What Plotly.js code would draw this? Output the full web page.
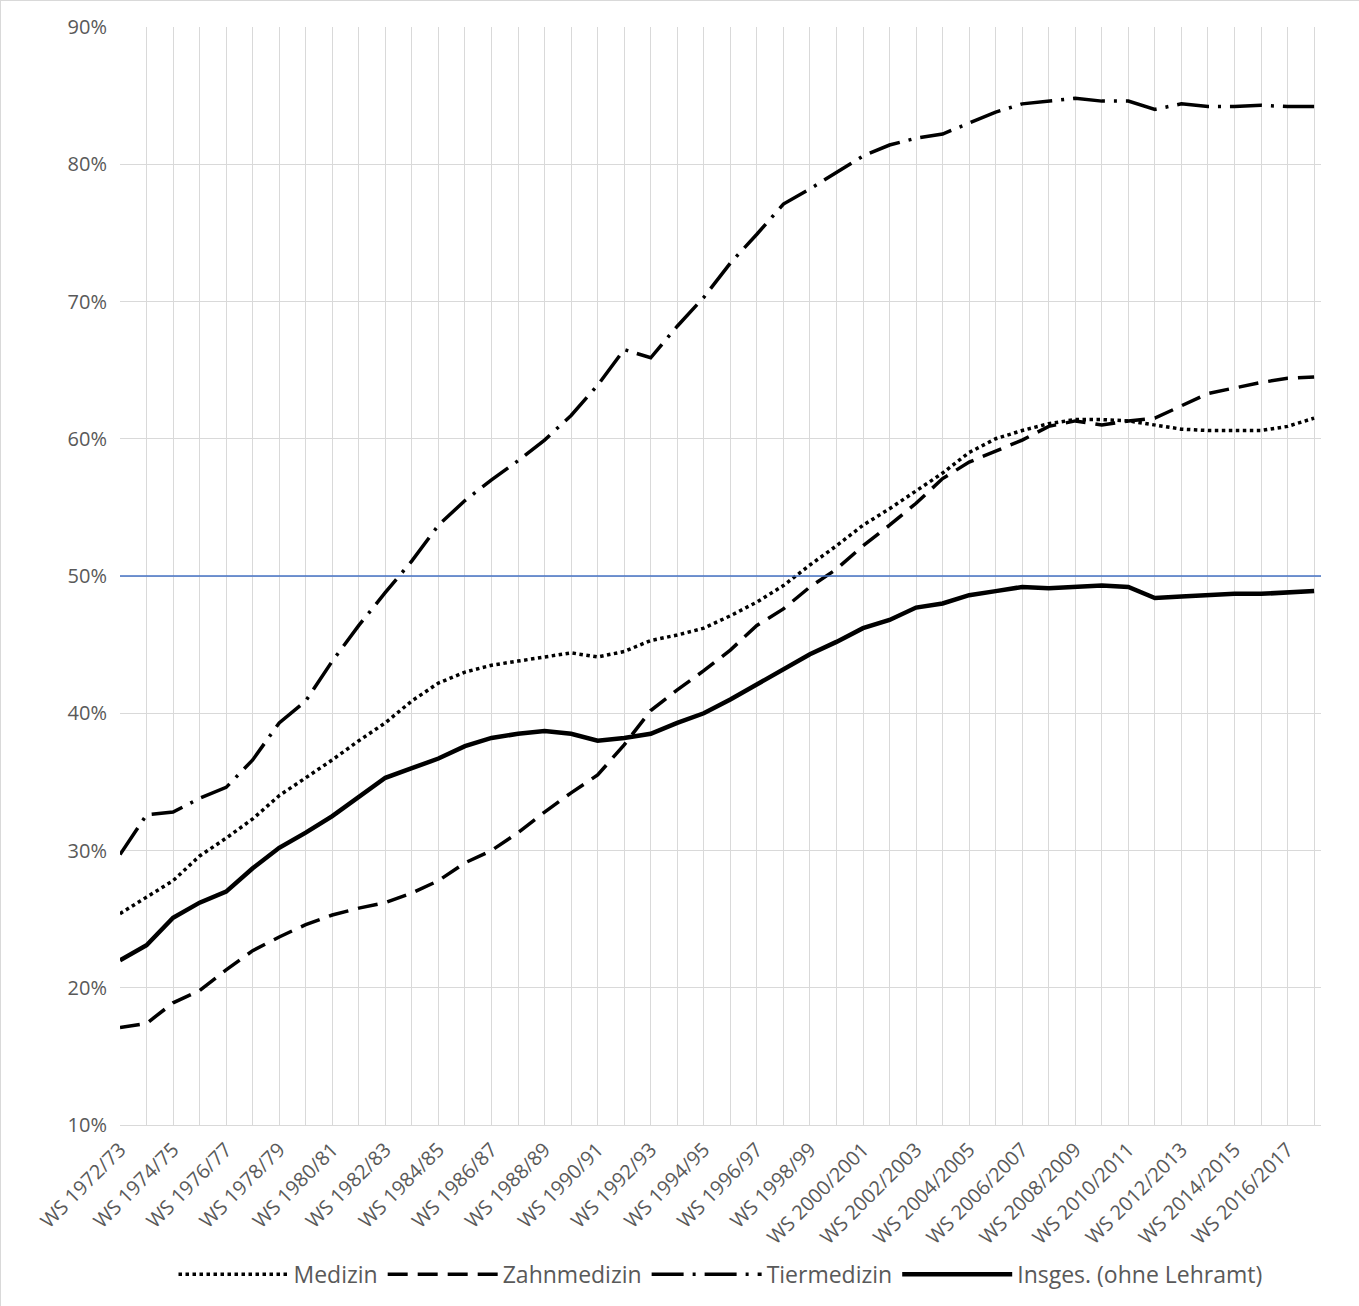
<!DOCTYPE html>
<html><head><meta charset="utf-8">
<script src="https://cdn.plot.ly/plotly-3.0.1.min.js"></script>
<style>body{margin:0}#c{width:1359px;height:1306px;box-sizing:border-box;border:1px solid #d9d9d9}</style>
</head><body><div id="c"></div>
<script>
const categories = [];
for (let y = 1972; y <= 2017; y++) {
  const n = y + 1;
  categories.push(y < 1999 ? `WS ${y}/${String(n).slice(2)}` : `WS ${y}/${n}`);
}
const medizin = [25.4,26.6,27.8,29.6,30.9,32.3,34.0,35.3,36.6,38.0,39.3,40.9,42.2,43.0,43.5,43.8,44.1,44.4,44.1,44.5,45.3,45.7,46.2,47.1,48.1,49.3,50.8,52.2,53.7,54.9,56.2,57.5,59.0,60.0,60.6,61.1,61.4,61.4,61.3,61.0,60.7,60.6,60.6,60.6,60.9,61.5];
const zahnmedizin = [17.1,17.4,18.9,19.8,21.3,22.7,23.7,24.6,25.3,25.8,26.2,26.9,27.8,29.1,30.0,31.3,32.8,34.2,35.5,37.7,40.2,41.7,43.1,44.6,46.4,47.6,49.2,50.5,52.2,53.7,55.3,57.1,58.3,59.1,59.9,60.9,61.3,61.0,61.3,61.5,62.4,63.3,63.7,64.1,64.4,64.5];
const tiermedizin = [29.7,32.6,32.8,33.8,34.6,36.6,39.3,40.9,43.8,46.4,48.8,51.1,53.7,55.5,57.0,58.4,59.9,61.7,63.9,66.5,65.9,68.2,70.3,72.8,74.9,77.1,78.2,79.4,80.6,81.4,81.9,82.2,83.0,83.8,84.4,84.6,84.8,84.6,84.6,84.0,84.4,84.2,84.2,84.3,84.2,84.2];
const insgesamt = [22.0,23.1,25.1,26.2,27.0,28.7,30.2,31.3,32.5,33.9,35.3,36.0,36.7,37.6,38.2,38.5,38.7,38.5,38.0,38.2,38.5,39.3,40.0,41.0,42.1,43.2,44.3,45.2,46.2,46.8,47.7,48.0,48.6,48.9,49.2,49.1,49.2,49.3,49.2,48.4,48.5,48.6,48.7,48.7,48.8,48.9];
const yTicks = [10,20,30,40,50,60,70,80,90];

const xs = categories.map((_, i) => i);
const mk = (name, y, dash, w) => ({x: xs, y: y.map(v => v/100), name, type:'scatter', mode:'lines',
  line:{color:'#000', width:w, dash}});
const data = [
  mk('Medizin', medizin, 'dot', 3.5),
  mk('Zahnmedizin', zahnmedizin, '20px,10px', 3.5),
  mk('Tiermedizin', tiermedizin, '32px,9px,3px,9px', 3.5),
  mk('Insges. (ohne Lehramt)', insgesamt, 'solid', 4.5)
];
const layout = {
  width:1359, height:1306, margin:{l:119,r:39,t:26,b:181},
  paper_bgcolor:'#fff', plot_bgcolor:'#fff',
  font:{family:'Open Sans, Liberation Sans, sans-serif', size:20, color:'#595959'},
  xaxis:{range:[0,45.26], tickvals:xs, ticktext:categories.map((c,i)=> i%2===0?c:''),
    tickangle:-45, showgrid:true, gridcolor:'#d9d9d9', gridwidth:1, zeroline:false,
    showline:true, linecolor:'#d9d9d9', ticks:'outside', ticklen:4, tickcolor:'rgba(0,0,0,0)', tickfont:{size:20,color:'#595959'}},
  yaxis:{range:[0.1,0.9], tickvals:yTicks.map(v=>v/100), ticktext:yTicks.map(v=>v+'%'),
    showgrid:true, gridcolor:'#d9d9d9', zeroline:false, ticks:'outside', ticklen:8, tickcolor:'rgba(0,0,0,0)', tickfont:{size:20}},
  shapes:[{type:'line', xref:'paper', x0:0, x1:1, yref:'y', y0:0.5, y1:0.5, line:{color:'#4472c4', width:1.5}}],
  legend:{orientation:'h', x:0.5, xanchor:'center', y:-0.135, yanchor:'middle', font:{size:23,color:'#595959'}, itemwidth:110},
  showlegend:true
};
Plotly.newPlot('c', data, layout, {displayModeBar:false});
</script></body></html>
